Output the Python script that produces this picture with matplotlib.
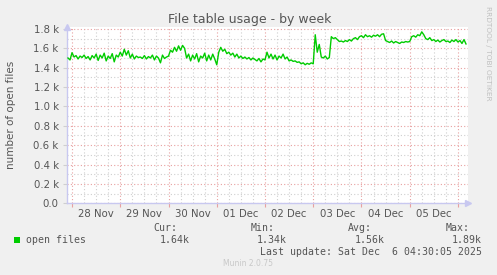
import numpy as np
import pandas as pd
import matplotlib
matplotlib.use("Agg")
import matplotlib.pyplot as plt
import matplotlib.dates as mdates
from matplotlib.ticker import MultipleLocator, FuncFormatter

# ---- data (hourly samples) ----
start_time = "2025-11-27 22:00"
open_files = [
    1500, 1480, 1555, 1510, 1525, 1490, 1520, 1505, 1530, 1495,
    1515, 1480, 1525, 1500, 1540, 1475, 1530, 1500, 1550, 1470,
    1520, 1495, 1545, 1460, 1530, 1510, 1560, 1520, 1590, 1530,
    1575, 1500, 1540, 1490, 1520, 1505, 1510, 1495, 1525, 1490,
    1515, 1500, 1530, 1480, 1520, 1500, 1450, 1530, 1495, 1510,
    1520, 1580, 1560, 1610, 1570, 1625, 1580, 1630, 1600, 1500,
    1540, 1470, 1530, 1490, 1545, 1460, 1520, 1500, 1550, 1470,
    1530, 1480, 1540, 1490, 1430, 1560, 1610, 1570, 1590, 1545,
    1560, 1530, 1550, 1510, 1540, 1500, 1520, 1495, 1510, 1490,
    1505, 1480, 1500, 1485, 1470, 1495, 1460, 1490, 1480, 1560,
    1500, 1540, 1490, 1530, 1480, 1520, 1500, 1540, 1490, 1510,
    1470, 1480, 1465, 1470, 1455, 1460, 1440, 1450, 1430, 1445,
    1435, 1450, 1440, 1740, 1560, 1640, 1510, 1500, 1520, 1490,
    1505, 1720, 1700, 1710, 1690, 1670, 1675, 1665, 1680, 1670,
    1690, 1675, 1700, 1710, 1690, 1720, 1730, 1710, 1740, 1720,
    1730, 1715, 1735, 1725, 1740, 1720, 1745, 1750, 1680, 1670,
    1660, 1675, 1655, 1670, 1660, 1650, 1665, 1660, 1670, 1665,
    1670, 1720, 1730, 1715, 1740, 1730, 1770, 1740, 1700, 1690,
    1710, 1680, 1690, 1670, 1685, 1665, 1680, 1690, 1670, 1675,
    1660, 1685, 1670, 1690, 1665, 1680, 1650, 1690, 1645,
]
times = pd.date_range(start_time, periods=len(open_files), freq="h")

day_labels = ["28 Nov", "29 Nov", "30 Nov", "01 Dec", "02 Dec", "03 Dec", "04 Dec", "05 Dec"]
label_days = pd.date_range("2025-11-28 12:00", periods=len(day_labels), freq="D")

legend_name = "open files"
stat_names = ["Cur:", "Min:", "Avg:", "Max:"]
stat_values = ["1.64k", "1.34k", "1.56k", "1.89k"]
last_update = "Last update: Sat Dec  6 04:30:05 2025"

x_start = pd.Timestamp("2025-11-27 21:30")
x_end = pd.Timestamp("2025-12-06 05:00")

# ---- figure ----
W, H = 497, 275
fig = plt.figure(figsize=(W / 100, H / 100), dpi=100, facecolor="#f0f0f0")
ax = fig.add_axes([67 / W, 1 - 203.3 / H, 401 / W, 176.3 / H])
ax.set_facecolor("white")

line_green = "#00cc00"
text_grey = "#555555"
mgrid = "#e8a0a0"
grid = "#cfcfcf"
axis_col = "#c8c8f0"

ax.plot(times, open_files, color=line_green, lw=1.0, zorder=3)

ax.set_xlim(x_start, x_end)
ax.set_ylim(0, 1820)

# y grid
ax.yaxis.set_major_locator(MultipleLocator(200))
ax.yaxis.set_minor_locator(MultipleLocator(100))
ax.yaxis.set_major_formatter(FuncFormatter(lambda v, p: "0.0" if v == 0 else f"{v/1000:.1f} k"))

# x grid: red at midnight, grey every 6 hours
ax.xaxis.set_major_locator(mdates.DayLocator())
ax.xaxis.set_minor_locator(mdates.HourLocator(byhour=[6, 12, 18]))
ax.xaxis.set_major_formatter(FuncFormatter(lambda v, p: ""))

ax.grid(which="major", color=mgrid, ls=(0, (1, 2)), lw=0.8)
ax.grid(which="minor", color=grid, ls=(0, (1, 2)), lw=0.8)
ax.set_axisbelow(True)

ax.tick_params(which="major", axis="x", length=3, color=mgrid, direction="out")
ax.tick_params(which="minor", axis="x", length=0)
ax.tick_params(which="major", axis="y", length=3, color=grid, direction="out",
               labelsize=7.3, labelcolor=text_grey, pad=3)
ax.tick_params(which="minor", axis="y", length=0)

# day labels sit at noon
sec = ax.secondary_xaxis("bottom")
sec.set_xticks(label_days, day_labels)
sec.tick_params(length=0, labelsize=7.3, labelcolor=text_grey, pad=4)
sec.spines["bottom"].set_visible(False)

for s in ["top", "right"]:
    ax.spines[s].set_visible(False)
for s in ["left", "bottom"]:
    ax.spines[s].set_color(axis_col)
    ax.spines[s].set_linewidth(1.0)

# axis arrows
ax.plot(0, 1.0, marker="^", ms=4, color=axis_col, transform=ax.transAxes, clip_on=False)
ax.plot(1.0, 0, marker=">", ms=4, color=axis_col, transform=ax.transAxes, clip_on=False)

ax.set_ylabel("number of open files", fontsize=7.5, color=text_grey)
ax.yaxis.set_label_coords(-51 / 401, 0.5)

fig.text(250 / W, 1 - 19 / H, "File table usage - by week", ha="center", va="center",
         fontsize=9, color=text_grey)
fig.text(488 / W, 1 - 53 / H, "RRDTOOL / TOBI OETIKER", rotation=270, ha="center", va="center",
         fontsize=5.3, color="#c0c0c0")

# legend block
mono = "DejaVu Sans Mono"
fig.patches.append(plt.Rectangle((14 / W, 1 - 243 / H), 6 / W, 6 / H, transform=fig.transFigure,
                                 facecolor=line_green, edgecolor="none"))
fig.text(26 / W, 1 - 240 / H, legend_name, family=mono, fontsize=7.1, color=text_grey, va="center")
col_right = [177, 275, 372, 470]
val_right = [190, 287, 385, 482]
for name, val, cx, vx in zip(stat_names, stat_values, col_right, val_right):
    fig.text(cx / W, 1 - 228 / H, name, family=mono, fontsize=7.1, color=text_grey,
             ha="right", va="center")
    fig.text(vx / W, 1 - 240 / H, val, family=mono, fontsize=7.1, color=text_grey,
             ha="right", va="center")
fig.text(482 / W, 1 - 252 / H, last_update, family=mono, fontsize=7.1, color=text_grey,
         ha="right", va="center")
fig.text(248 / W, 1 - 264 / H, "Munin 2.0.75", fontsize=5.5, color="#c8c8c8", ha="center", va="center")

fig.savefig("out.png", dpi=100, facecolor=fig.get_facecolor())
